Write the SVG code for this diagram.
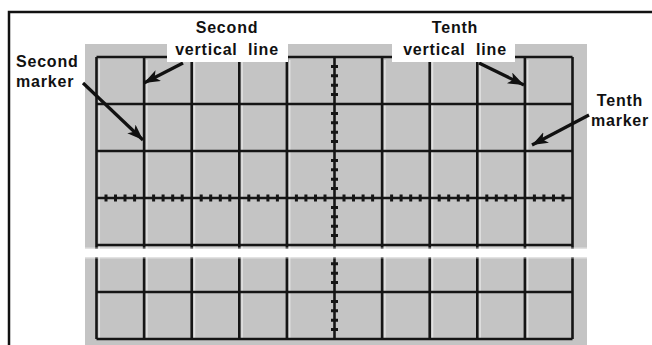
<svg xmlns="http://www.w3.org/2000/svg" width="652" height="345" viewBox="0 0 652 345">
<defs>
<style>
.frame{fill:none;stroke:#111;stroke-width:2.5}
.grid{stroke:#151515;stroke-width:2.6;fill:none}
.hl{stroke:#fff;stroke-width:1.5;opacity:0.5}
.tick{stroke:#151515;stroke-width:3}
.lbl{font-family:"Liberation Sans",Arial,sans-serif;font-weight:bold;font-size:16px;fill:#111;letter-spacing:0.8px;white-space:pre}
.arrow{stroke:#111;stroke-width:3.2;fill:none;marker-end:url(#ah)}
</style>
<marker id="ah" markerUnits="userSpaceOnUse" markerWidth="18" markerHeight="14" refX="16" refY="6" orient="auto">
<path d="M0,0 L16,6 L0,12 L4,6 Z" fill="#111"/>
</marker>
</defs>
<rect width="652" height="345" fill="#fff"/>
<g id="frame">
<path class="frame" d="M9,345 V12 H652"/>
</g>
<g id="screen">
<rect x="85" y="44" width="502" height="301" fill="#c4c4c4"/>
<g class="hl">
<line x1="99.3" y1="60" x2="99.3" y2="338"/>
<line x1="146.9" y1="60" x2="146.9" y2="338"/>
<line x1="194.5" y1="60" x2="194.5" y2="338"/>
<line x1="242.1" y1="60" x2="242.1" y2="338"/>
<line x1="289.7" y1="60" x2="289.7" y2="338"/>
<line x1="384.9" y1="60" x2="384.9" y2="338"/>
<line x1="432.5" y1="60" x2="432.5" y2="338"/>
<line x1="480.1" y1="60" x2="480.1" y2="338"/>
<line x1="527.7" y1="60" x2="527.7" y2="338"/>
</g>
<g class="grid">
<line x1="96.5" y1="57" x2="572.5" y2="57"/>
<line x1="96.5" y1="104" x2="572.5" y2="104"/>
<line x1="96.5" y1="151" x2="572.5" y2="151"/>
<line x1="96.5" y1="198" x2="572.5" y2="198"/>
<line x1="96.5" y1="245" x2="572.5" y2="245"/>
<line x1="96.5" y1="292" x2="572.5" y2="292"/>
<line x1="96.5" y1="339" x2="572.5" y2="339"/>
<line x1="96.5" y1="57" x2="96.5" y2="339"/>
<line x1="144.1" y1="57" x2="144.1" y2="339"/>
<line x1="191.7" y1="57" x2="191.7" y2="339"/>
<line x1="239.3" y1="57" x2="239.3" y2="339"/>
<line x1="286.9" y1="57" x2="286.9" y2="339"/>
<line x1="334.5" y1="57" x2="334.5" y2="339"/>
<line x1="382.1" y1="57" x2="382.1" y2="339"/>
<line x1="429.7" y1="57" x2="429.7" y2="339"/>
<line x1="477.3" y1="57" x2="477.3" y2="339"/>
<line x1="524.9" y1="57" x2="524.9" y2="339"/>
<line x1="572.5" y1="57" x2="572.5" y2="339"/>
</g>
<g class="tick">
<path d="M106,194.5V201.5M115.5,194.5V201.5M125,194.5V201.5M134.6,194.5V201.5
M153.6,194.5V201.5M163.1,194.5V201.5M172.7,194.5V201.5M182.2,194.5V201.5
M201.2,194.5V201.5M210.7,194.5V201.5M220.3,194.5V201.5M229.8,194.5V201.5
M248.8,194.5V201.5M258.3,194.5V201.5M267.9,194.5V201.5M277.4,194.5V201.5
M296.4,194.5V201.5M305.9,194.5V201.5M315.5,194.5V201.5M325,194.5V201.5
M344,194.5V201.5M353.5,194.5V201.5M363.1,194.5V201.5M372.6,194.5V201.5
M391.6,194.5V201.5M401.1,194.5V201.5M410.7,194.5V201.5M420.2,194.5V201.5
M439.2,194.5V201.5M448.7,194.5V201.5M458.3,194.5V201.5M467.8,194.5V201.5
M486.8,194.5V201.5M496.3,194.5V201.5M505.9,194.5V201.5M515.4,194.5V201.5
M534.4,194.5V201.5M543.9,194.5V201.5M553.5,194.5V201.5M563,194.5V201.5"/>
<path d="M331,66.4H338M331,75.8H338M331,85.2H338M331,94.6H338
M331,113.4H338M331,122.8H338M331,132.2H338M331,141.6H338
M331,160.4H338M331,169.8H338M331,179.2H338M331,188.6H338
M331,207.4H338M331,216.8H338M331,226.2H338M331,235.6H338
M331,263.8H338M331,273.2H338M331,282.6H338
M331,301.4H338M331,310.8H338M331,320.2H338M331,329.6H338"/>
</g>
<rect x="85" y="247.5" width="502" height="11" fill="#fff" opacity="0.5"/>
<rect x="85" y="249" width="502" height="8" fill="#fff"/>
</g>
<g id="connectors">
<line class="arrow" x1="183" y1="63" x2="144" y2="83"/>
<line class="arrow" x1="83" y1="83" x2="143" y2="140"/>
<line class="arrow" x1="479" y1="63" x2="524" y2="85"/>
<line class="arrow" x1="589" y1="115" x2="532" y2="145"/>
</g>
<g id="label-second-vertical">
<rect x="167" y="38" width="121" height="24" fill="#fff"/>
<text class="lbl" x="227" y="33" text-anchor="middle">Second</text>
<text class="lbl" x="227" y="55" text-anchor="middle">vertical  line</text>
</g>
<g id="label-tenth-vertical">
<rect x="392" y="38" width="123" height="24" fill="#fff"/>
<text class="lbl" x="455" y="33" text-anchor="middle">Tenth</text>
<text class="lbl" x="455" y="55" text-anchor="middle">vertical  line</text>
</g>
<g id="label-second-marker">
<text class="lbl" x="16" y="67">Second</text>
<text class="lbl" x="16" y="87">marker</text>
</g>
<g id="label-tenth-marker">
<text class="lbl" x="620" y="106" text-anchor="middle">Tenth</text>
<text class="lbl" x="620" y="126" text-anchor="middle">marker</text>
</g>
</svg>
